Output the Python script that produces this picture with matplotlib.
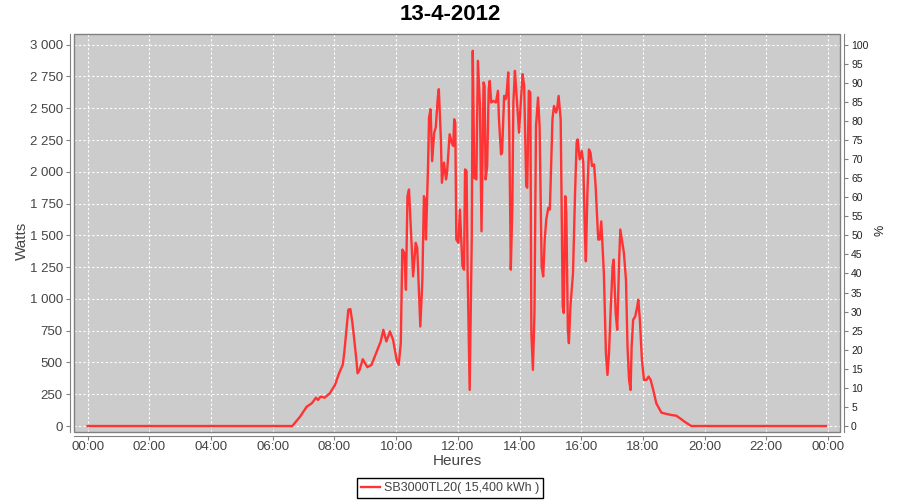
import matplotlib
matplotlib.use("Agg")
import matplotlib.dates as mdates
import matplotlib.pyplot as plt
import pandas as pd
from matplotlib.patches import Rectangle
from matplotlib.ticker import FuncFormatter, MultipleLocator

plt.rcParams["font.family"] = ["Liberation Sans", "DejaVu Sans"]

DAY = "2012-04-13"
TITLE = "13-4-2012"
SERIES = "SB3000TL20( 15,400 kWh )"

# readings of the inverter (time of day, watts)
times = [
    "00:00", "06:38", "06:40", "06:53", "07:06", "07:16", "07:24", "07:28",
    "07:33", "07:41", "07:51", "08:01", "08:09", "08:16", "08:19", "08:27",
    "08:31", "08:35", "08:42", "08:45", "08:49", "08:55", "09:04", "09:12",
    "09:25", "09:30", "09:35", "09:41", "09:48", "09:54", "10:01", "10:05",
    "10:09", "10:12", "10:16", "10:19", "10:22", "10:25", "10:29", "10:33",
    "10:38", "10:41", "10:44", "10:47", "10:51", "10:54", "10:56", "10:58",
    "11:02", "11:04", "11:07", "11:10", "11:14", "11:17", "11:21", "11:23",
    "11:27", "11:29", "11:33", "11:37", "11:39", "11:44", "11:48", "11:51",
    "11:53", "11:55", "11:57", "12:01", "12:04", "12:09", "12:12", "12:14",
    "12:17", "12:19", "12:23", "12:27", "12:29", "12:32", "12:36", "12:39",
    "12:43", "12:46", "12:50", "12:52", "12:54", "12:57", "13:00", "13:02",
    "13:05", "13:09", "13:14", "13:18", "13:20", "13:24", "13:26", "13:30",
    "13:33", "13:35", "13:38", "13:40", "13:43", "13:46", "13:48", "13:51",
    "13:53", "13:59", "14:02", "14:06", "14:09", "14:13", "14:15", "14:18",
    "14:21", "14:23", "14:26", "14:29", "14:32", "14:36", "14:39", "14:43",
    "14:46", "14:49", "14:52", "14:56", "14:59", "15:04", "15:07", "15:11",
    "15:13", "15:16", "15:20", "15:24", "15:26", "15:29", "15:31", "15:34",
    "15:36", "15:39", "15:44", "15:48", "15:51", "15:53", "15:57", "16:01",
    "16:04", "16:07", "16:09", "16:12", "16:15", "16:18", "16:21", "16:25",
    "16:28", "16:33", "16:36", "16:39", "16:44", "16:48", "16:51", "16:54",
    "16:57", "17:01", "17:03", "17:07", "17:10", "17:14", "17:16", "17:19",
    "17:23", "17:27", "17:30", "17:33", "17:36", "17:38", "17:41", "17:45",
    "17:49", "17:51", "17:54", "17:58", "18:02", "18:07", "18:11", "18:15",
    "18:20", "18:26", "18:36", "18:46", "18:55", "19:05", "19:12", "19:21",
    "19:28", "19:34", "23:56",
]
watts = [
    0, 0, 10, 73, 152, 179, 223, 205,
    231, 223, 258, 323, 415, 481, 573, 915,
    920, 810, 547, 415, 442, 526, 463, 481,
    613, 665, 757, 665, 744, 678, 520, 481,
    652, 1388, 1362, 1072, 1808, 1861, 1520, 1177,
    1441, 1401, 1099, 783, 1151, 1808, 1782, 1467,
    2045, 2427, 2492, 2084, 2308, 2348, 2584, 2650,
    2255, 1914, 2072, 1940, 1993, 2295, 2229, 2203,
    2413, 2387, 1467, 1441, 1703, 1256, 1230, 2019,
    2006, 1204, 284, 1467, 2952, 1953, 1940, 2873,
    2518, 1532, 2703, 2676, 1940, 2045, 2650, 2715,
    2545, 2558, 2545, 2637, 2413, 2137, 2150, 2597,
    2571, 2624, 2782, 2334, 1230, 1729, 2545, 2794,
    2676, 2308, 2518, 2768, 2676, 1887, 1874, 2637,
    2624, 731, 442, 889, 2360, 2584, 2360, 1256,
    1177, 1467, 1625, 1717, 1703, 2413, 2518, 2466,
    2492, 2597, 2413, 941, 889, 1808, 1677, 757,
    652, 941, 1204, 1835, 2229, 2255, 2098, 2163,
    2072, 1520, 1296, 1835, 2176, 2150, 2045, 2058,
    1887, 1467, 1467, 1610, 1204, 573, 402, 573,
    889, 1256, 1309, 889, 757, 1335, 1546, 1467,
    1362, 1151, 625, 363, 284, 625, 836, 862,
    941, 994, 836, 520, 363, 363, 389, 363,
    284, 179, 105, 95, 87, 81, 61, 34,
    16, 0, 0,
]

x = pd.to_datetime([f"{DAY} {t}" for t in times])
day0 = pd.Timestamp(DAY)

fig = plt.figure(figsize=(9, 5), dpi=100)
ax = fig.add_axes([74 / 900, 68 / 500, 766 / 900, 398 / 500])
ax.set_facecolor("#cccccc")

ax.plot(x, watts, color="#ff3333", lw=1.7, zorder=3, label=SERIES)

ax.set_xlim(day0 - pd.Timedelta(minutes=26.6), day0 + pd.Timedelta(hours=24, minutes=23.3))
ax.set_ylim(-47, 3084)
ax.xaxis.set_major_locator(mdates.HourLocator(byhour=range(0, 24, 2)))
ax.xaxis.set_major_formatter(mdates.DateFormatter("%H:%M"))
ax.yaxis.set_major_locator(MultipleLocator(250))
ax.yaxis.set_major_formatter(FuncFormatter(lambda v, p: f"{int(v):,}".replace(",", " ")))

ax.grid(True, color="white", linestyle=(0, (2, 2)), lw=0.8)
ax.set_axisbelow(True)

for side in ["top", "right"]:
    ax.spines[side].set_visible(False)
for side in ["left", "bottom"]:
    ax.spines[side].set_position(("outward", 3))
    ax.spines[side].set_color("#808080")
ax.tick_params(axis="both", colors="#808080", length=3, width=0.8,
               labelcolor="#444444", labelsize=9.5, pad=2)
ax.tick_params(axis="x", pad=0.5)

# plot area outline
ax.add_patch(Rectangle((0, 0), 1, 1, transform=ax.transAxes, fill=False,
                       edgecolor="#808080", lw=1, zorder=4, clip_on=False))

ax2 = ax.twinx()
ax2.set_ylim(-47 / 30, 3084 / 30)
ax2.yaxis.set_major_locator(MultipleLocator(5))
for side in ["top", "left", "bottom"]:
    ax2.spines[side].set_visible(False)
ax2.spines["right"].set_position(("outward", 3))
ax2.spines["right"].set_color("#808080")
ax2.tick_params(axis="y", colors="#808080", length=3, width=0.8,
                labelcolor="#222222", labelsize=7.5, pad=2)

fig.text(0.5, 1 - 14 / 500, TITLE, ha="center", va="center",
         fontsize=16, fontweight="bold")
fig.text(22 / 900, 1 - 241 / 500, "Watts", rotation=90, ha="center", va="center",
         fontsize=11, color="#444444")
fig.text(881 / 900, 1 - 230 / 500, "%", rotation=90, ha="center", va="center",
         fontsize=9, color="#222222")
fig.text(457 / 900, 1 - 461 / 500, "Heures", ha="center", va="center",
         fontsize=11, color="#444444")

leg = fig.legend(loc="center", bbox_to_anchor=(450 / 900, 12 / 500),
                 fancybox=False, framealpha=1, edgecolor="black",
                 fontsize=9, handlelength=1.5, handletextpad=0.3,
                 borderpad=0.3, borderaxespad=0)
leg.get_frame().set_linewidth(1)
for t in leg.get_texts():
    t.set_color("#444444")

fig.savefig("out.png", dpi=100)
